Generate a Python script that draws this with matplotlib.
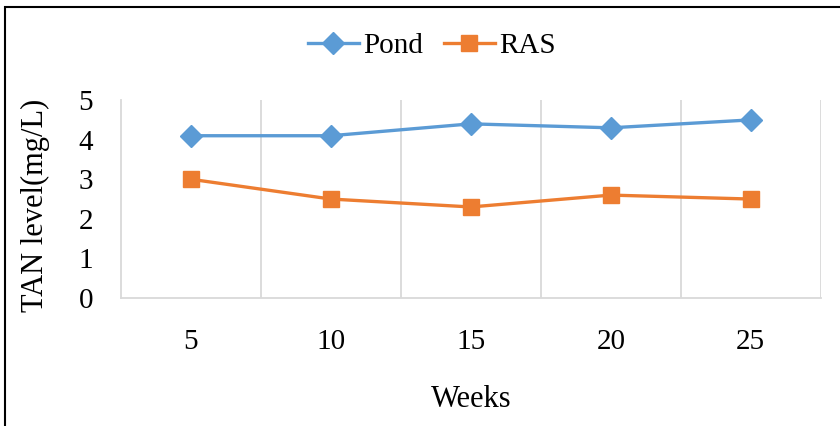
import matplotlib.pyplot as plt
from matplotlib.patches import Rectangle

weeks = ["5", "10", "15", "20", "25"]
pond = [4.1, 4.1, 4.4, 4.3, 4.5]
ras = [3.0, 2.5, 2.3, 2.6, 2.5]

plt.rcParams['font.family'] = ['Liberation Serif', 'DejaVu Serif']

fig = plt.figure(figsize=(8.4, 4.26), dpi=100)
ax = fig.add_axes([0.144, 0.3005, 0.833, 0.4645])

x = range(len(weeks))
ax.plot(x, pond, color='#5B9BD5', lw=2.4, marker='D', ms=11, label='Pond')
ax.plot(x, ras, color='#ED7D31', lw=2.4, marker='s', ms=11.5, label='RAS')

ax.set_xlim(-0.5, len(weeks) - 0.5)
ax.set_ylim(0, 5)
ax.set_yticks(range(6))
ax.set_xticks(list(x))
ax.set_xticklabels(weeks)
ax.set_xticks([i + 0.5 for i in x], minor=True)
ax.grid(True, which='minor', axis='x', color='#D9D9D9', lw=1.3)
ax.tick_params(which='both', length=0)
ax.tick_params(axis='x', pad=22, labelsize=21)
ax.tick_params(axis='y', pad=20, labelsize=21)

for s in ['top', 'right']:
    ax.spines[s].set_visible(False)
for s in ['left', 'bottom']:
    ax.spines[s].set_color('#D9D9D9')
    ax.spines[s].set_linewidth(1.3)

ax.set_xlabel('Weeks', fontsize=22, labelpad=22)
ax.set_ylabel('TAN level(mg/L)', fontsize=22)
ax.yaxis.set_label_coords(-0.102, 0.47)

fig.legend(loc='center', bbox_to_anchor=(0.514, 0.892), ncol=2, frameon=False,
           fontsize=21, handlelength=1.75, columnspacing=0.7, handletextpad=0.15)

# outer frame (only left and top edges visible in the crop)
fig.patches.append(Rectangle((0.006, -0.1), 2, 0.1 + 0.9836, transform=fig.transFigure,
                             fill=False, edgecolor='black', lw=1.5))

fig.savefig('out.png', dpi=100)
